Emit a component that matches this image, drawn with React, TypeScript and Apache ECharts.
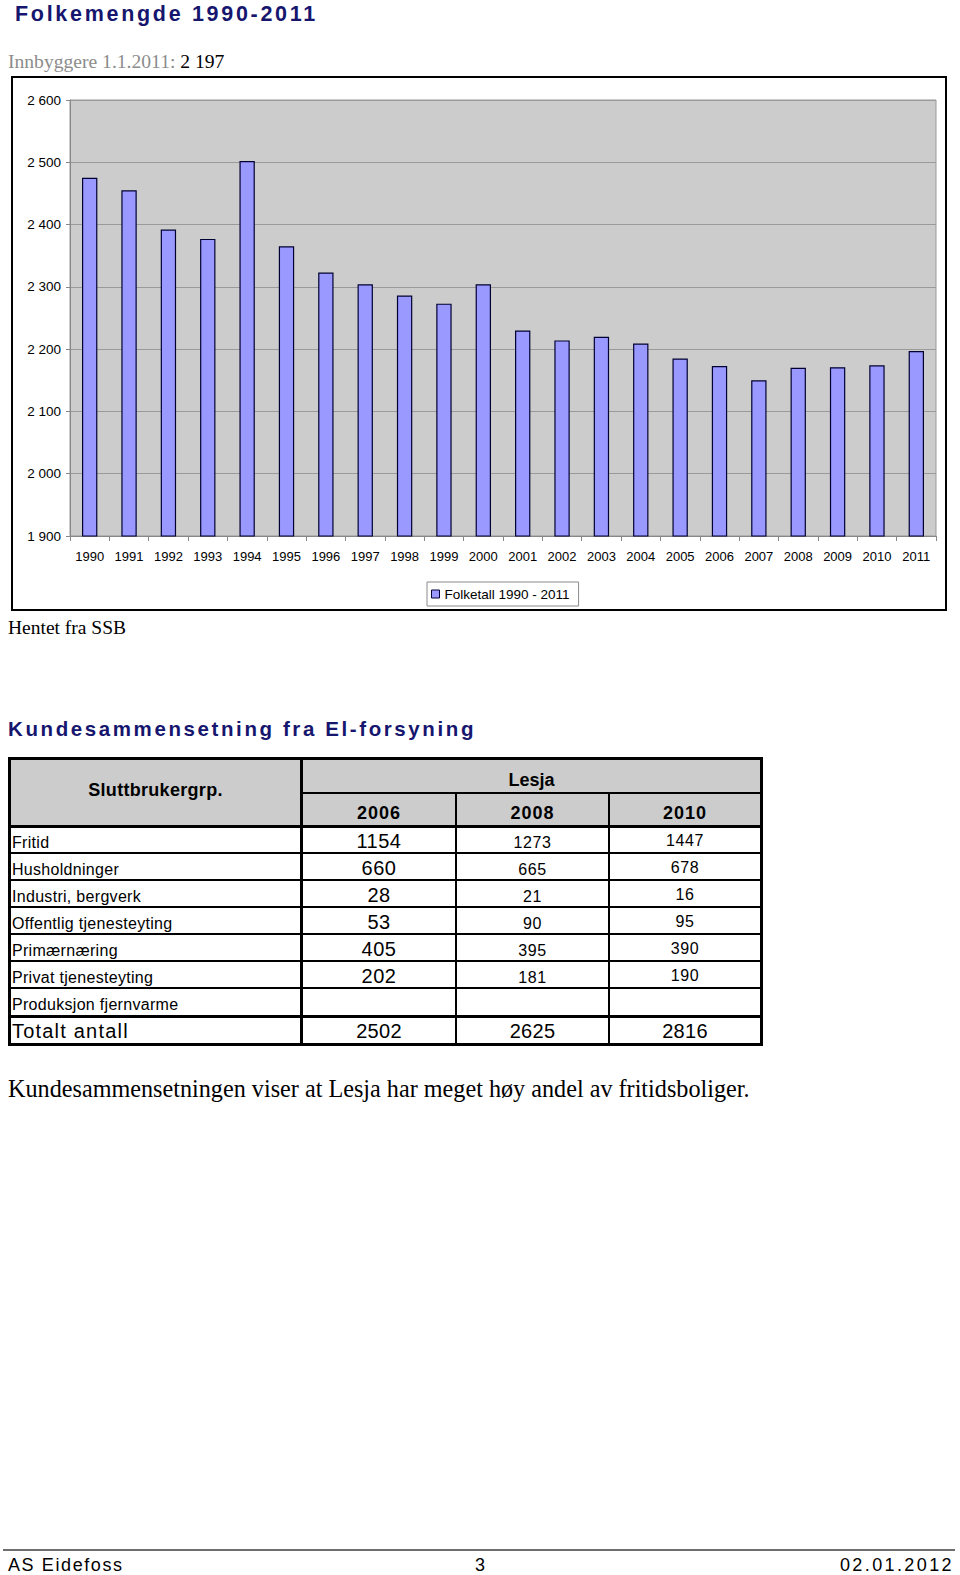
import React, { useEffect, useRef } from "react";
import * as echarts from "echarts";

// ---------- data ----------
const years = [
  "1990", "1991", "1992", "1993", "1994", "1995", "1996", "1997", "1998", "1999", "2000",
  "2001", "2002", "2003", "2004", "2005", "2006", "2007", "2008", "2009", "2010", "2011",
];
const population = [
  2475, 2455, 2392, 2377, 2502, 2365, 2323, 2304, 2286, 2273, 2304,
  2230, 2214, 2220, 2209, 2185, 2173, 2150, 2170, 2171, 2174, 2197,
];
const seriesName = "Folketall 1990 - 2011";
const yMin = 1900;
const yMax = 2600;
const yStep = 100;

const tableYears = ["2006", "2008", "2010"];
const groups = [
  "Fritid",
  "Husholdninger",
  "Industri, bergverk",
  "Offentlig tjenesteyting",
  "Primærnæring",
  "Privat tjenesteyting",
  "Produksjon fjernvarme",
];
const values2006: (number | null)[] = [1154, 660, 28, 53, 405, 202, null];
const values2008: (number | null)[] = [1273, 665, 21, 90, 395, 181, null];
const values2010: (number | null)[] = [1447, 678, 16, 95, 390, 190, null];
const totals = [2502, 2625, 2816];

const fmt = (v: number) => String(v).replace(/\B(?=(\d{3})+(?!\d))/g, " ");

const SANS = "'Liberation Sans', Arial, sans-serif";
const SERIF = "'Liberation Serif', 'Times New Roman', serif";
const NAVY = "#16166e";

// helper: absolutely positioned text placed by baseline
const sansTop = (baseline: number, size: number) => baseline - 0.8465 * size;
const serifTop = (baseline: number, size: number) => baseline - 0.8375 * size;

function Chart() {
  const ref = useRef<HTMLDivElement>(null);
  useEffect(() => {
    if (!ref.current) return;
    const chart = echarts.init(ref.current, undefined, { renderer: "svg" });
    chart.setOption({
      animation: false,
      grid: {
        left: 70,
        top: 100,
        width: 866,
        height: 436,
        show: true,
        backgroundColor: "#cccccc",
        borderColor: "#999999",
        borderWidth: 1,
      },
      xAxis: {
        type: "category",
        data: years,
        axisLine: { show: true, lineStyle: { color: "#888888", width: 1 } },
        axisTick: { show: true, length: 5, lineStyle: { color: "#888888" } },
        axisLabel: { color: "#000", fontFamily: SANS, fontSize: 13, margin: 14, interval: 0 },
        splitLine: { show: false },
      },
      yAxis: {
        type: "value",
        min: yMin,
        max: yMax,
        interval: yStep,
        axisLine: { show: true, lineStyle: { color: "#888888", width: 1 } },
        axisTick: { show: true, length: 4, lineStyle: { color: "#888888" } },
        splitLine: { show: true, lineStyle: { color: "#9a9a9a", width: 1 } },
        axisLabel: { color: "#000", fontFamily: SANS, fontSize: 13.5, margin: 9, formatter: (v: number) => fmt(v) },
      },
      legend: {
        data: [seriesName],
        left: 427,
        top: 582,
        padding: [5, 9, 5, 4],
        itemWidth: 8,
        itemHeight: 8,
        icon: "rect",
        borderColor: "#8a8a8a",
        borderWidth: 1,
        backgroundColor: "#ffffff",
        textStyle: { fontSize: 13.5, color: "#000", fontFamily: SANS },
        itemStyle: { color: "#9999ff", borderColor: "#000033", borderWidth: 1 },
      },
      series: [
        {
          type: "bar",
          name: seriesName,
          data: population,
          barWidth: "39%",
          itemStyle: { color: "#9999ff", borderColor: "#000033", borderWidth: 1.2 },
        },
      ],
      graphic: [
        {
          type: "rect",
          silent: true,
          shape: { x: 12, y: 77, width: 934, height: 533 },
          style: { fill: "none", stroke: "#000", lineWidth: 2 },
        },
      ],
    });
    return () => chart.dispose();
  }, []);
  return <div ref={ref} style={{ position: "absolute", left: 0, top: 0, width: 960, height: 640 }} />;
}

function Txt(props: {
  text: React.ReactNode;
  left: number;
  width?: number;
  baseline: number;
  size: number;
  bold?: boolean;
  serif?: boolean;
  align?: "left" | "center" | "right";
  spacing?: number;
  color?: string;
  right?: number;
}) {
  const { text, left, width, baseline, size, bold, serif, align, spacing, color, right } = props;
  const top = serif ? serifTop(baseline, size) : sansTop(baseline, size);
  const style: React.CSSProperties = {
    position: "absolute",
    top,
    fontSize: size,
    lineHeight: `${size}px`,
    fontFamily: serif ? SERIF : SANS,
    fontWeight: bold ? "bold" : "normal",
    textAlign: align || "left",
    letterSpacing: spacing ? `${spacing}px` : undefined,
    color: color || "#000",
    whiteSpace: "nowrap",
  };
  if (right !== undefined) style.right = right;
  else style.left = left;
  if (width !== undefined) style.width = width;
  return <div style={style}>{text}</div>;
}

function Table() {
  // layout (positions only)
  const cols = [
    { x: 11, w: 289 },
    { x: 303, w: 152 },
    { x: 457, w: 151 },
    { x: 610, w: 150 },
  ];
  const hLines = [
    { y: 757, t: 3, x0: 8, x1: 763 },
    { y: 792, t: 2, x0: 300, x1: 763 },
    { y: 825, t: 3, x0: 8, x1: 763 },
    ...[1, 2, 3, 4, 5, 6].map((i) => ({ y: 825 + 27 * i, t: 2, x0: 8, x1: 763 })),
    { y: 1015, t: 3, x0: 8, x1: 763 },
    { y: 1043, t: 3, x0: 8, x1: 763 },
  ];
  const vLines = [
    { x: 8, t: 3, y0: 757, y1: 1046 },
    { x: 300, t: 3, y0: 757, y1: 1046 },
    { x: 455, t: 2, y0: 792, y1: 1046 },
    { x: 608, t: 2, y0: 792, y1: 1046 },
    { x: 760, t: 3, y0: 757, y1: 1046 },
  ];
  const colVals = [values2006, values2008, values2010];
  const els: React.ReactNode[] = [];
  els.push(<div key="hdrfill" style={{ position: "absolute", left: 8, top: 757, width: 755, height: 71, background: "#cccccc" }} />);
  hLines.forEach((l, i) =>
    els.push(<div key={"h" + i} style={{ position: "absolute", left: l.x0, top: l.y, width: l.x1 - l.x0, height: l.t, background: "#000" }} />)
  );
  vLines.forEach((l, i) =>
    els.push(<div key={"v" + i} style={{ position: "absolute", left: l.x, top: l.y0, width: l.t, height: l.y1 - l.y0, background: "#000" }} />)
  );
  els.push(<Txt key="sb" text="Sluttbrukergrp." left={cols[0].x} width={cols[0].w} baseline={796.7} size={18} bold align="center" spacing={0.3} />);
  els.push(<Txt key="lesja" text="Lesja" left={303} width={457} baseline={786.7} size={18} bold align="center" />);
  tableYears.forEach((y, j) =>
    els.push(<Txt key={"y" + j} text={y} left={cols[j + 1].x} width={cols[j + 1].w} baseline={819} size={18} bold align="center" spacing={1} />)
  );
  groups.forEach((g, i) => {
    const b = 848.3 + 27 * i;
    els.push(<Txt key={"g" + i} text={g} left={12} baseline={b} size={16} spacing={0.3} />);
    colVals.forEach((arr, j) => {
      const v = arr[i];
      if (v === null) return;
      const big = j === 0;
      els.push(
        <Txt
          key={`c${i}-${j}`}
          text={String(v)}
          left={cols[j + 1].x}
          width={cols[j + 1].w}
          baseline={j === 2 ? b - 2 : b}
          size={big ? 20 : 16}
          spacing={big ? 0.5 : 0.6}
          align="center"
        />
      );
    });
  });
  els.push(<Txt key="tot" text="Totalt antall" left={12} baseline={1038} size={20} spacing={1.2} />);
  totals.forEach((t, j) =>
    els.push(<Txt key={"t" + j} text={String(t)} left={cols[j + 1].x} width={cols[j + 1].w} baseline={1038} size={20} spacing={0.3} align="center" />)
  );
  return <>{els}</>;
}

export default function App() {
  const last = population[population.length - 1];
  return (
    <div style={{ position: "absolute", left: 0, top: 0, width: 960, height: 1575, overflow: "hidden", background: "#fff" }}>
      <Chart />
      <Txt text="Folkemengde 1990-2011" left={15} baseline={22} size={21.5} bold spacing={2.7} color={NAVY} />
      <Txt
        text={
          <>
            <span style={{ color: "#8c8c8c" }}>Innbyggere 1.1.2011: </span>
            <span style={{ color: "#000" }}>{fmt(last)}</span>
          </>
        }
        left={8}
        baseline={68.3}
        size={19.6}
        serif
      />
      <Txt text="Hentet fra SSB" left={8} baseline={634.3} size={19.5} serif />
      <Txt text="Kundesammensetning fra El-forsyning" left={8} baseline={736.7} size={20.5} bold spacing={2.6} color={NAVY} />
      <Table />
      <Txt
        text="Kundesammensetningen viser at Lesja har meget høy andel av fritidsboliger."
        left={8}
        baseline={1097.3}
        size={24.2}
        serif
      />
      <div style={{ position: "absolute", left: 3, top: 1549, width: 952, height: 2, background: "#6e6e6e" }} />
      <Txt text="AS Eidefoss" left={8} baseline={1571.3} size={18} spacing={1.6} />
      <Txt text="3" left={460} width={40} baseline={1571.3} size={18} align="center" />
      <Txt text="02.01.2012" left={0} right={6} baseline={1571.3} size={18} spacing={2.4} />
    </div>
  );
}
